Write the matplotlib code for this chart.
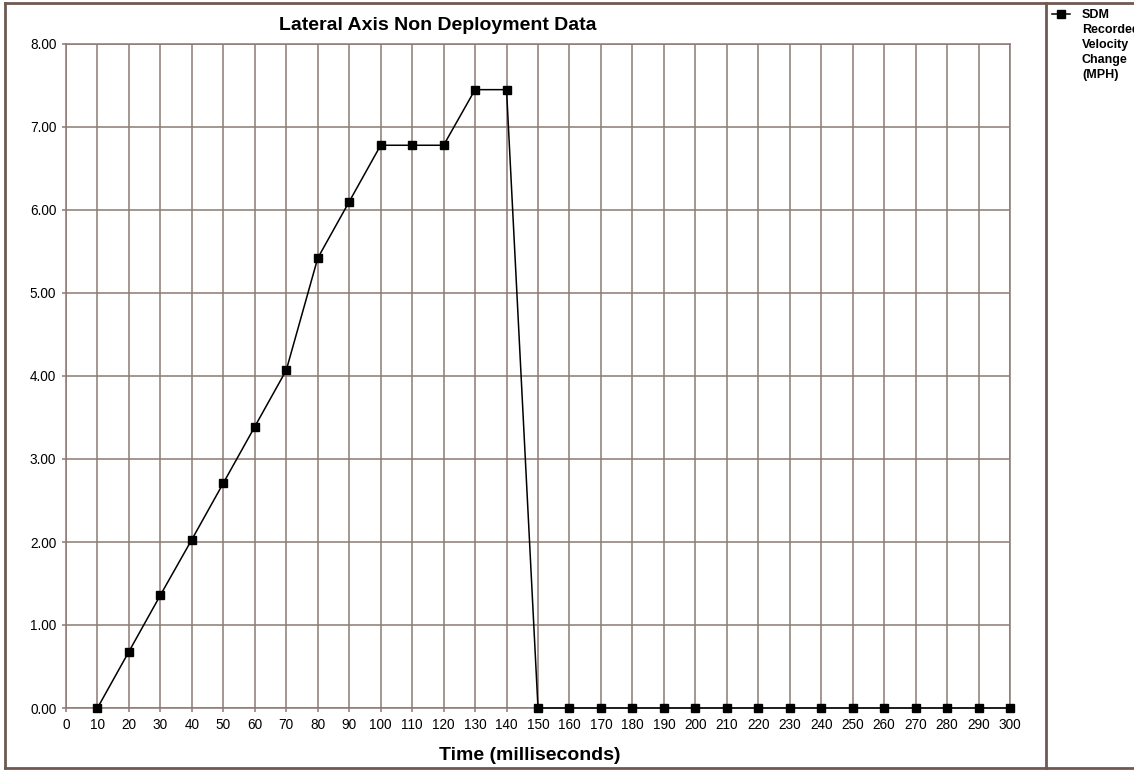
import matplotlib
matplotlib.use('Agg')
import matplotlib.pyplot as plt
from matplotlib.lines import Line2D

plt.rcParams['font.family'] = ['Liberation Sans', 'DejaVu Sans']

# data
time_ms = [10, 20, 30, 40, 50, 60, 70, 80, 90, 100, 110, 120, 130, 140, 150,
           160, 170, 180, 190, 200, 210, 220, 230, 240, 250, 260, 270, 280, 290, 300]
velocity = [0.00, 0.68, 1.36, 2.03, 2.71, 3.39, 4.07, 5.42, 6.10, 6.78, 6.78, 6.78, 7.45, 7.45, 0.00,
            0.00, 0.00, 0.00, 0.00, 0.00, 0.00, 0.00, 0.00, 0.00, 0.00, 0.00, 0.00, 0.00, 0.00, 0.00]
x_ticks = list(range(0, 301, 10))
y_ticks = [0, 1, 2, 3, 4, 5, 6, 7, 8]

grid_col = '#8c7a74'
frame_col = '#6e5a50'

W, H = 1134, 771
fig = plt.figure(figsize=(W / 100, H / 100), dpi=100)
ax = fig.add_axes([66 / W, 1 - 708 / H, (1010 - 66) / W, (708 - 44) / H])

ax.plot(time_ms, velocity, color='black', linewidth=1.1, marker='s',
        markersize=6, markerfacecolor='black', markeredgecolor='black', clip_on=False, zorder=3)

ax.set_xlim(0, 300)
ax.set_ylim(0, 8)
ax.set_xticks(x_ticks)
ax.set_yticks(y_ticks)
ax.set_yticklabels(['%.2f' % v for v in y_ticks])
ax.grid(True, color=grid_col, linewidth=1.1)
ax.set_axisbelow(True)
for s in ax.spines.values():
    s.set_color(grid_col)
    s.set_linewidth(1.1)
ax.tick_params(axis='both', colors=grid_col, labelcolor='black', labelsize=9.8,
               length=3, width=1.1)
ax.tick_params(axis='x', pad=4)
ax.tick_params(axis='y', pad=4)

# title and axis label
fig.text(438 / W, 1 - 25 / H, 'Lateral Axis Non Deployment Data', ha='center', va='center',
         fontsize=14, fontweight='bold')
fig.text(530 / W, 1 - 756 / H, 'Time (milliseconds)', ha='center', va='center',
         fontsize=14, fontweight='bold')

# outer frame and legend divider
for xs, ys in [([5, 5], [3, 768]), ([5, W], [3, 3]), ([5, W], [768, 768]), ([1046, 1046], [3, 768])]:
    fig.add_artist(Line2D([v / W for v in xs], [1 - v / H for v in ys], color=frame_col,
                          linewidth=2, transform=fig.transFigure))

# legend
fig.add_artist(Line2D([1052 / W, 1070 / W], [1 - 14 / H, 1 - 14 / H], color='black', linewidth=1.1,
                      transform=fig.transFigure))
fig.add_artist(Line2D([1061 / W], [1 - 14 / H], color='black', marker='s', markersize=5.5,
                      transform=fig.transFigure))
fig.text(1082 / W, 1 - 9 / H, 'SDM\nRecorded\nVelocity\nChange\n(MPH)', ha='left', va='top',
         fontsize=9, fontweight='bold', linespacing=1.32)

fig.savefig('out.png', dpi=100)
